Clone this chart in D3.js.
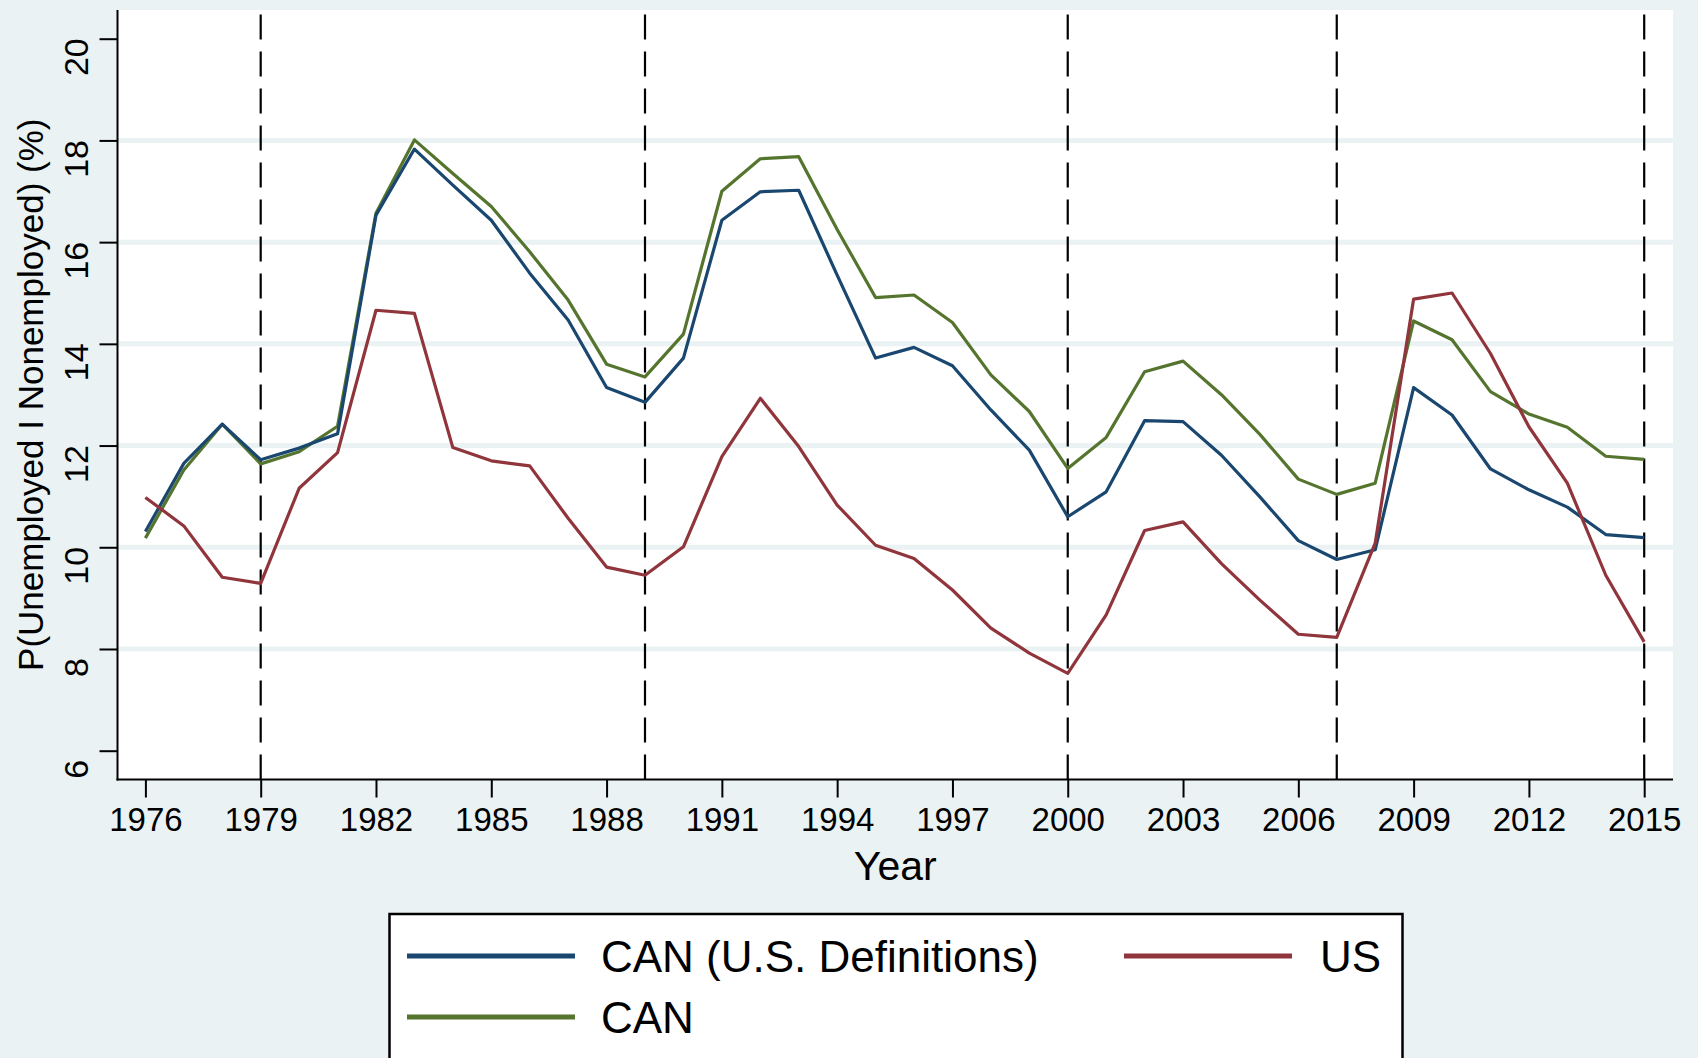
<!DOCTYPE html>
<html>
<head>
<meta charset="utf-8">
<script src="https://cdn.jsdelivr.net/npm/d3@7"></script>
<style>
  html, body { margin: 0; padding: 0; background: #eaf2f3; }
  svg { display: block; }
</style>
</head>
<body>
<div id="chart"></div>
<script>

//--------------------------------------
// DATA
//--------------------------------------

const years = [1976, 1977, 1978, 1979, 1980, 1981, 1982, 1983, 1984, 1985,
               1986, 1987, 1988, 1989, 1990, 1991, 1992, 1993, 1994, 1995,
               1996, 1997, 1998, 1999, 2000, 2001, 2002, 2003, 2004, 2005,
               2006, 2007, 2008, 2009, 2010, 2011, 2012, 2013, 2014, 2015];

const canUSDef = [10.31, 11.65, 12.42, 11.72, 11.95, 12.23, 16.53, 17.83, 17.12, 16.43,
                  15.39, 14.47, 13.14, 12.85, 13.72, 16.43, 16.99, 17.02, 15.35, 13.72,
                  13.93, 13.57, 12.70, 11.91, 10.60, 11.09, 12.49, 12.47, 11.81, 10.99,
                  10.13, 9.76, 9.95, 13.14, 12.60, 11.54, 11.13, 10.79, 10.25, 10.19];

const can = [10.18, 11.52, 12.42, 11.64, 11.88, 12.38, 16.57, 18.01, 17.35, 16.70,
             15.81, 14.86, 13.60, 13.35, 14.19, 17.00, 17.64, 17.68, 16.25, 14.91,
             14.96, 14.42, 13.39, 12.67, 11.55, 12.16, 13.45, 13.66, 13.00, 12.22,
             11.34, 11.04, 11.26, 14.45, 14.08, 13.06, 12.62, 12.36, 11.79, 11.73];

const us = [10.98, 10.42, 9.41, 9.29, 11.16, 11.86, 14.66, 14.60, 11.96, 11.70,
            11.60, 10.57, 9.61, 9.45, 10.01, 11.78, 12.93, 11.98, 10.83, 10.04,
            9.78, 9.16, 8.41, 7.92, 7.52, 8.67, 10.33, 10.50, 9.68, 8.96,
            8.29, 8.23, 10.08, 14.88, 15.00, 13.81, 12.37, 11.26, 9.45, 8.14];

const xTicks = [1976, 1979, 1982, 1985, 1988, 1991, 1994, 1997, 2000, 2003, 2006, 2009, 2012, 2015];
const yTicks = [6, 8, 10, 12, 14, 16, 18, 20];
const gridValues = [8, 10, 12, 14, 16, 18];
const markerYears = [1979, 1989, 2000, 2007, 2015];

const seriesNames = ["CAN (U.S. Definitions)", "US", "CAN"];
const seriesColors = ["#1a476f", "#90353b", "#55752f"];



//--------------------------------------
// CHART
//--------------------------------------

function Chart_CTRL (target) {

  this.width = 1698;
  this.height = 1058;
  this.fontFamily = "'Liberation Sans', Arial, Helvetica, sans-serif";
  this.plot = { left: 117.5, right: 1673, top: 10, bottom: 779.5 };

  this.x = d3.scaleLinear().domain([1976, 2015]).range([145.4, 1644.2]);
  this.y = d3.scaleLinear().domain([6, 20]).range([750.7, 38.7]);

  this.svg = d3.select(target).append("svg")
    .attr("width", this.width)
    .attr("height", this.height);

  this.svg.append("rect")
    .attr("width", this.width)
    .attr("height", this.height)
    .attr("fill", "#eaf2f3");

  this.svg.append("rect")
    .attr("x", this.plot.left)
    .attr("y", this.plot.top)
    .attr("width", this.plot.right - this.plot.left)
    .attr("height", this.plot.bottom - this.plot.top)
    .attr("fill", "#ffffff");

}



Chart_CTRL.prototype.drawGrid = function () {

  let y = this.y;
  let p = this.plot;

  this.svg.append("g").selectAll("line")
    .data(gridValues)
    .enter()
    .append("line")
    .attr("x1", p.left)
    .attr("x2", p.right)
    .attr("y1", function(d) { return y(d); })
    .attr("y2", function(d) { return y(d); })
    .attr("stroke", "#eaf2f3")
    .attr("stroke-width", 5);

}



Chart_CTRL.prototype.drawMarkers = function () {

  let x = this.x;
  let p = this.plot;

  // drawn from the bottom up so the dash pattern starts at the axis
  this.svg.append("g").selectAll("line")
    .data(markerYears)
    .enter()
    .append("line")
    .attr("x1", function(d) { return x(d); })
    .attr("x2", function(d) { return x(d); })
    .attr("y1", p.bottom)
    .attr("y2", p.top)
    .attr("stroke", "#000000")
    .attr("stroke-width", 2.2)
    .attr("stroke-dasharray", "25,12");

}



Chart_CTRL.prototype.drawSeries = function () {

  let x = this.x;
  let y = this.y;
  let allSeries = [canUSDef, us, can];
  let drawOrder = [2, 0, 1];

  let line = d3.line()
    .x(function(d, i) { return x(years[i]); })
    .y(function(d) { return y(d); });

  drawOrder.forEach(function (k) {
    this.svg.append("path")
      .datum(allSeries[k])
      .attr("d", line)
      .attr("fill", "none")
      .attr("stroke", seriesColors[k])
      .attr("stroke-width", 3.2)
      .attr("stroke-linejoin", "round");
  }.bind(this));

}



Chart_CTRL.prototype.drawAxes = function () {

  let p = this.plot;
  let font = this.fontFamily;

  let xAxis = this.svg.append("g")
    .attr("transform", "translate(0," + p.bottom + ")")
    .call(d3.axisBottom(this.x).tickValues(xTicks).tickFormat(d3.format("d")).tickSize(18).tickPadding(10));

  xAxis.select(".domain").remove();
  xAxis.selectAll(".tick line").attr("stroke", "#000").attr("stroke-width", 2);
  xAxis.selectAll(".tick text")
    .attr("font-family", font)
    .attr("font-size", 33)
    .attr("fill", "#000");

  let yAxis = this.svg.append("g")
    .attr("transform", "translate(" + p.left + ",0)")
    .call(d3.axisLeft(this.y).tickValues(yTicks).tickSize(18).tickPadding(0));

  yAxis.select(".domain").remove();
  yAxis.selectAll(".tick line").attr("stroke", "#000").attr("stroke-width", 2);
  yAxis.selectAll(".tick text")
    .attr("font-family", font)
    .attr("font-size", 34)
    .attr("fill", "#000")
    .attr("text-anchor", "middle")
    .attr("dy", null)
    .attr("transform", "translate(-30,0) rotate(-90)");

  // axis lines
  this.svg.append("line")
    .attr("x1", p.left).attr("x2", p.left)
    .attr("y1", p.top).attr("y2", p.bottom + 1)
    .attr("stroke", "#000").attr("stroke-width", 2);

  this.svg.append("line")
    .attr("x1", p.left - 1).attr("x2", p.right)
    .attr("y1", p.bottom).attr("y2", p.bottom)
    .attr("stroke", "#000").attr("stroke-width", 2);

  // titles
  this.svg.append("text")
    .attr("x", (p.left + p.right) / 2)
    .attr("y", 880)
    .attr("text-anchor", "middle")
    .attr("font-family", font)
    .attr("font-size", 41)
    .text("Year");

  this.svg.append("text")
    .attr("transform", "translate(43," + ((p.top + p.bottom) / 2) + ") rotate(-90)")
    .attr("text-anchor", "middle")
    .attr("font-family", font)
    .attr("font-size", 35)
    .text("P(Unemployed I Nonemployed) (%)");

}



Chart_CTRL.prototype.drawLegend = function () {

  let font = this.fontFamily;
  let legend = this.svg.append("g");

  legend.append("rect")
    .attr("x", 389.5)
    .attr("y", 914)
    .attr("width", 1013)
    .attr("height", 160)
    .attr("fill", "#ffffff")
    .attr("stroke", "#000")
    .attr("stroke-width", 2.5);

  let items = [
    { k: 0, lx: 407, ly: 956, tx: 601 },
    { k: 1, lx: 1124, ly: 956, tx: 1320 },
    { k: 2, lx: 407, ly: 1017, tx: 601 }
  ];

  items.forEach(function (it) {
    legend.append("line")
      .attr("x1", it.lx)
      .attr("x2", it.lx + 168)
      .attr("y1", it.ly)
      .attr("y2", it.ly)
      .attr("stroke", seriesColors[it.k])
      .attr("stroke-width", 5);

    legend.append("text")
      .attr("x", it.tx)
      .attr("y", it.ly + 15.5)
      .attr("font-family", font)
      .attr("font-size", 44)
      .attr("fill", "#000")
      .text(seriesNames[it.k]);
  });

}



const chart = new Chart_CTRL("#chart");
chart.drawGrid();
chart.drawMarkers();
chart.drawSeries();
chart.drawAxes();
chart.drawLegend();

</script>
</body>
</html>
